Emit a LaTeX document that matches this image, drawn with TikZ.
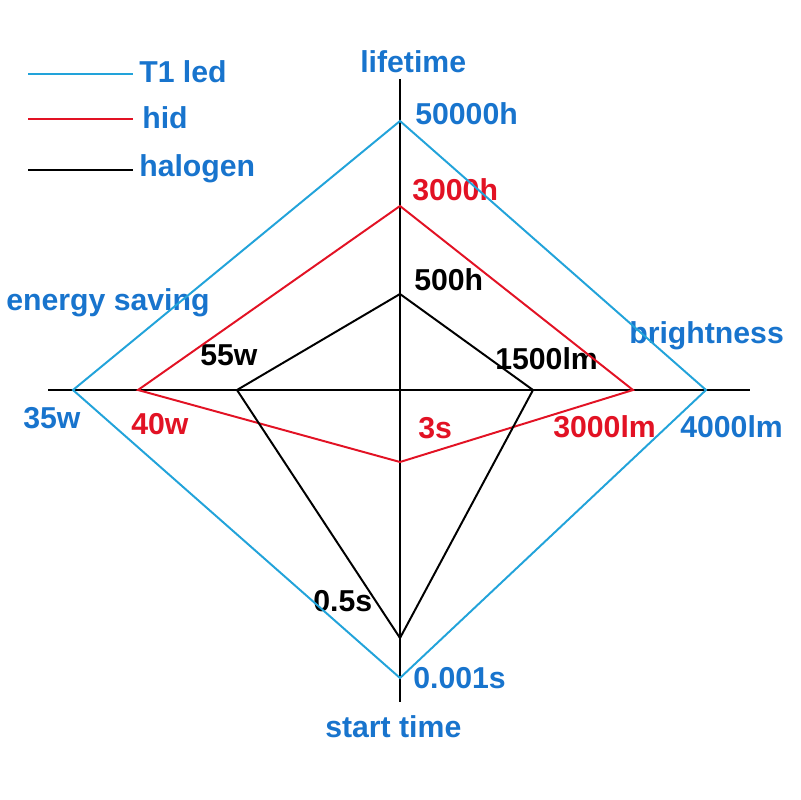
\documentclass[tikz,border=0pt]{standalone}
\usepackage{fontspec}
\setmainfont{Liberation Sans}
\usetikzlibrary{positioning}
\definecolor{ledblue}{RGB}{34,163,218}
\definecolor{txtblue}{RGB}{24,116,205}
\definecolor{hidred}{RGB}{226,18,36}

\begin{document}
\begin{tikzpicture}[x=0.025cm, y=-0.025cm,
        lbl/.style={anchor=base west, inner sep=0pt, font=\fontsize{21.5}{25}\selectfont\bfseries},
        axis/.style={draw=black, line width=1.4pt},
        series/.style={line width=1.4pt, line join=miter}]
        \useasboundingbox (0,0) rectangle (800,800);
        % labels first, lines go over them
        \node[lbl, txtblue] (ax-life) at (360,73) {lifetime};
        \node[lbl, txtblue] (ax-energy) at (6,310) {energy saving};
        \node[lbl, txtblue] (ax-bright) at (629,343) {brightness};
        \node[lbl, txtblue] (ax-start) at (325,737) {start time};
        \node[lbl, txtblue] (v-led-t) at (415,125) {50000h};
        \node[lbl, hidred] (v-hid-t) at (412,200) {3000h};
        \node[lbl, black] (v-hal-t) at (414,290) {500h};
        \node[lbl, black] (v-hal-l) at (200,365) {55w};
        \node[lbl, txtblue] (v-led-l) at (23,428) {35w};
        \node[lbl, hidred] (v-hid-l) at (131,434) {40w};
        \node[lbl, black] (v-hal-r) at (495,369) {1500lm};
        \node[lbl, hidred] (v-hid-b) at (418,438) {3s};
        \node[lbl, hidred] (v-hid-r) at (553,437) {3000lm};
        \node[lbl, txtblue] (v-led-r) at (680,437) {4000lm};
        \node[lbl, black] (v-hal-b) at (313,611) {0.5s};
        \node[lbl, txtblue] (v-led-b) at (413,688) {0.001s};
        % legend
        \node[lbl, txtblue] (key-led) at (139,83) {T1 led};
        \node[lbl, txtblue] (key-hid) at (142,129) {hid};
        \node[lbl, txtblue] (key-hal) at (139,177) {halogen};
        \coordinate (k-led-a) at (28,74);  \coordinate (k-led-b) at (133,74);
        \coordinate (k-hid-a) at (28,119); \coordinate (k-hid-b) at (133,119);
        \coordinate (k-hal-a) at (28,170); \coordinate (k-hal-b) at (133,170);
        \draw[series, ledblue] (k-led-a) -- (k-led-b);
        \draw[series, hidred] (k-hid-a) -- (k-hid-b);
        \draw[series, black] (k-hal-a) -- (k-hal-b);
        % axes
        \coordinate (ax-t) at (400,79);
        \coordinate (ax-b) at (400,702);
        \coordinate (ax-l) at (48,390);
        \coordinate (ax-r) at (750,390);
        \draw[axis] (ax-t) -- (ax-b);
        \draw[axis] (ax-l) -- (ax-r);
        % series vertices: top/right/bottom/left
        \foreach \s/\t/\r/\b/\l in {led/121/706/678/73, hid/206/633/462/138, hal/294/533/638/237}{
            \coordinate (\s-t) at (400,\t);
            \coordinate (\s-r) at (\r,390);
            \coordinate (\s-b) at (400,\b);
            \coordinate (\s-l) at (\l,390);
        }
        \draw[series, ledblue] (led-t) -- (led-r) -- (led-b) -- (led-l) -- cycle;
        \draw[series, hidred] (hid-t) -- (hid-r) -- (hid-b) -- (hid-l) -- cycle;
        \draw[series, black] (hal-t) -- (hal-r) -- (hal-b) -- (hal-l) -- cycle;
    \end{tikzpicture}
\end{document}
